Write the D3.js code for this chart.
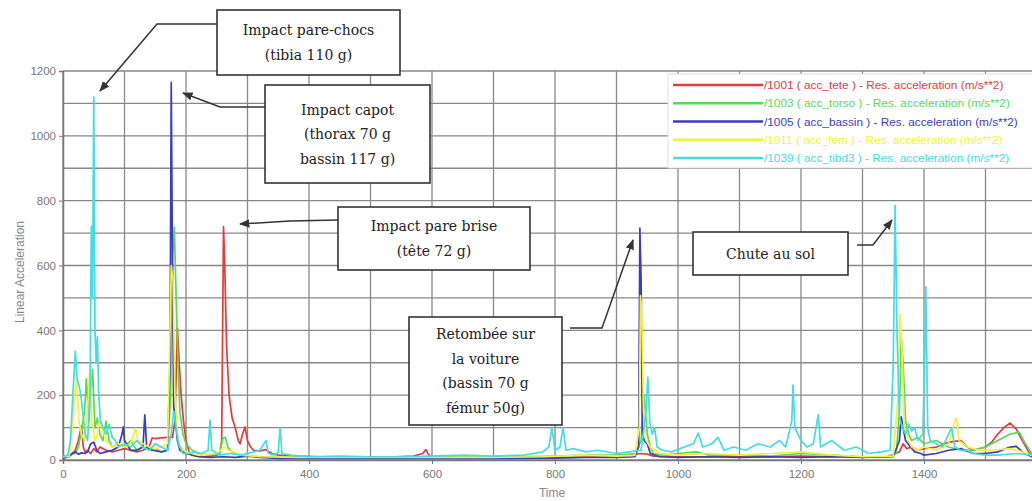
<!DOCTYPE html>
<html><head><meta charset="utf-8">
<script src="https://cdn.jsdelivr.net/npm/d3@7"></script>
<style>body{margin:0;background:#fff;overflow:hidden}</style>
</head><body><svg id="c" width="1032" height="501"></svg>
<script>
// ---------- data ----------
const xTicks = [0,200,400,600,800,1000,1200,1400,1600];
const yTicks = [0,200,400,600,800,1000,1200];
const seriesLabels = [
  "/1001 ( acc_tete ) - Res. acceleration (m/s**2)",
  "/1003 ( acc_torso ) - Res. acceleration (m/s**2)",
  "/1005 ( acc_bassin ) - Res. acceleration (m/s**2)",
  "/1011 ( acc_fem ) - Res. acceleration (m/s**2)",
  "/1039 ( acc_tibd3 ) - Res. acceleration (m/s**2)"
];
const seriesColors = ["#e23c3c","#5ad85a","#3c3cc0","#f2f23a","#44dde2"];

const tete = [[0,10],[5,12],[10,15],[15,20],[20,30],[25,60],[30,105],[33,40],[36,25],[40,30],[45,20],[50,35],[55,25],[60,40],[70,30],[80,25],[90,30],[100,35],[110,30],[120,25],[130,30],[140,40],[145,68],[150,66],[160,68],[170,70],[178,70],[182,120],[186,407],[189,300],[192,200],[196,120],[200,60],[205,25],[210,15],[220,12],[230,10],[240,12],[250,15],[255,20],[258,60],[261,720],[263,600],[266,350],[270,200],[275,130],[280,100],[285,60],[288,50],[292,80],[296,102],[300,60],[305,40],[310,30],[320,28],[330,32],[340,20],[350,15],[380,12],[420,10],[460,10],[500,10],[540,10],[570,12],[585,20],[590,32],[595,15],[600,10],[640,8],[700,8],[760,8],[820,8],[880,10],[920,15],[940,20],[950,18],[960,12],[1000,10],[1050,10],[1100,12],[1150,10],[1200,12],[1250,10],[1300,10],[1340,10],[1360,25],[1366,50],[1372,35],[1380,40],[1390,30],[1400,35],[1420,40],[1440,55],[1460,60],[1470,40],[1480,30],[1500,40],[1510,55],[1520,80],[1530,100],[1540,114],[1550,95],[1560,60],[1570,25],[1580,10],[1600,8]];

const torso = [[0,10],[10,15],[20,20],[25,40],[30,90],[35,150],[38,250],[42,120],[45,200],[48,280],[52,100],[56,130],[60,80],[65,60],[70,120],[75,60],[80,40],[90,50],[100,40],[110,60],[120,30],[130,40],[140,30],[150,35],[160,25],[170,30],[175,200],[178,620],[181,718],[184,500],[187,300],[190,150],[195,80],[200,50],[210,30],[220,20],[240,15],[255,20],[260,68],[264,70],[268,40],[275,25],[290,15],[320,10],[360,8],[400,8],[450,8],[500,8],[550,8],[600,10],[650,8],[700,8],[750,10],[800,12],[850,15],[900,15],[930,20],[940,60],[945,200],[950,80],[955,40],[960,20],[980,15],[1000,20],[1030,25],[1050,15],[1100,15],[1150,12],[1200,20],[1250,15],[1300,10],[1340,10],[1355,20],[1360,150],[1363,380],[1366,300],[1370,120],[1375,80],[1380,60],[1390,70],[1400,50],[1420,60],[1440,40],[1460,30],[1480,30],[1500,40],[1520,60],[1540,80],[1555,85],[1565,50],[1575,20],[1590,10],[1600,8]];

const bassin = [[0,5],[10,10],[15,20],[20,25],[25,18],[30,22],[35,20],[40,25],[45,50],[50,55],[55,30],[60,20],[70,25],[80,30],[90,40],[96,80],[98,102],[100,60],[110,30],[120,30],[130,40],[133,139],[136,40],[145,30],[160,25],[170,30],[174,300],[176,1165],[178,600],[180,160],[183,120],[186,60],[190,30],[200,20],[220,10],[240,8],[260,10],[280,8],[300,12],[320,8],[350,5],[400,5],[500,5],[600,5],[700,5],[800,6],[850,8],[900,8],[930,10],[936,40],[938,715],[940,560],[942,80],[945,60],[950,50],[955,20],[970,10],[1000,8],[1050,10],[1100,8],[1150,10],[1200,8],[1250,10],[1300,8],[1350,10],[1360,60],[1363,133],[1366,100],[1370,60],[1378,40],[1385,25],[1395,20],[1400,15],[1420,20],[1440,30],[1460,35],[1480,20],[1500,20],[1520,25],[1540,40],[1550,42],[1560,25],[1575,10],[1600,5]];

const femur = [[0,10],[10,10],[15,100],[18,180],[22,250],[26,120],[30,80],[35,60],[40,150],[44,300],[47,120],[52,60],[56,80],[60,130],[65,90],[70,60],[80,40],[90,50],[100,40],[110,50],[118,98],[122,60],[130,50],[140,40],[150,35],[160,40],[170,50],[173,300],[176,600],[179,550],[182,200],[186,80],[190,40],[200,25],[220,15],[250,20],[262,40],[270,30],[290,15],[320,10],[380,8],[450,8],[550,8],[620,8],[700,8],[780,10],[850,15],[900,12],[930,15],[937,100],[939,507],[941,450],[944,150],[948,60],[955,40],[970,20],[1000,15],[1050,20],[1100,15],[1150,20],[1200,25],[1250,15],[1300,10],[1350,12],[1358,200],[1361,450],[1364,350],[1368,100],[1375,60],[1380,40],[1390,30],[1400,40],[1420,30],[1440,50],[1450,120],[1453,130],[1457,60],[1470,40],[1490,30],[1510,30],[1540,35],[1560,25],[1580,10],[1600,8]];

const tibia = [[0,10],[8,15],[12,60],[16,200],[20,336],[23,250],[26,230],[29,200],[32,150],[36,80],[40,60],[44,200],[46,720],[48,500],[50,1120],[52,400],[54,300],[56,380],[58,200],[61,120],[65,100],[70,80],[75,110],[80,70],[85,60],[90,40],[100,50],[110,40],[120,60],[130,40],[140,30],[150,50],[160,40],[170,30],[176,80],[180,150],[184,100],[188,50],[195,20],[205,20],[215,25],[225,20],[236,30],[239,123],[242,30],[255,15],[270,20],[290,15],[310,25],[320,30],[330,60],[334,20],[345,15],[350,25],[353,100],[356,20],[370,15],[400,10],[450,12],[500,10],[550,10],[600,12],[650,15],[700,12],[750,15],[780,25],[790,40],[795,100],[800,30],[808,40],[813,100],[818,30],[830,35],[850,25],[870,30],[900,20],[920,25],[940,30],[948,150],[951,256],[954,120],[958,80],[962,100],[966,40],[975,30],[990,25],[1010,40],[1025,50],[1033,83],[1040,40],[1055,50],[1065,70],[1075,30],[1090,40],[1110,30],[1130,50],[1150,40],[1165,60],[1175,40],[1185,120],[1187,231],[1190,100],[1200,60],[1210,40],[1220,50],[1228,139],[1232,40],[1250,60],[1270,30],[1290,40],[1310,20],[1330,25],[1345,30],[1350,300],[1353,785],[1356,400],[1360,130],[1365,100],[1370,80],[1375,110],[1380,90],[1385,100],[1390,60],[1398,80],[1401,300],[1403,534],[1406,100],[1410,60],[1420,50],[1430,40],[1440,80],[1445,100],[1450,40],[1460,30],[1470,30],[1480,20],[1500,15],[1520,15],[1550,20],[1580,15],[1600,10]];

const annotations = [
  {lines:["Impact pare-chocs","(tibia 110 g)"]},
  {lines:["Impact capot","(thorax 70  g","bassin 117 g)"]},
  {lines:["Impact pare brise","(tête 72 g)"]},
  {lines:["Retombée sur","la voiture","(bassin 70 g","fémur 50g)"]},
  {lines:["Chute au sol"]}
];

// ---------- layout ----------
const svg = d3.select("#c");
const L = 63, R = 1047, T = 71, B = 460;
const x = d3.scaleLinear().domain([0,1600]).range([L,R]);
const y = d3.scaleLinear().domain([0,1200]).range([B,T]);

svg.append("rect").attr("width",1032).attr("height",501).attr("fill","#fff");

// grid
const gx = d3.range(0,1601,100), gy = d3.range(0,1201,100);
svg.append("g").selectAll("line").data(gx).join("line")
  .attr("x1",d=>x(d)).attr("x2",d=>x(d)).attr("y1",T).attr("y2",B)
  .attr("stroke","#888").attr("stroke-width",1.3);
svg.append("g").selectAll("line").data(gy).join("line")
  .attr("x1",L).attr("x2",R).attr("y1",d=>y(d)).attr("y2",d=>y(d))
  .attr("stroke","#888").attr("stroke-width",1.3);

// axes
const tickFont = "'Liberation Sans Narrow','Arial Narrow','Liberation Sans',sans-serif";
const ax = svg.append("g").attr("transform",`translate(0,${B})`)
  .call(d3.axisBottom(x).tickValues(xTicks).tickSize(4).tickPadding(6).tickFormat(d3.format("d")));
const ay = svg.append("g").attr("transform",`translate(${L},0)`)
  .call(d3.axisLeft(y).tickValues(yTicks).tickSize(4).tickPadding(3).tickFormat(d3.format("d")));
[ax,ay].forEach(a=>{
  a.select(".domain").attr("stroke","#777").attr("stroke-width",1.5);
  a.selectAll(".tick line").attr("stroke","#777");
  a.selectAll("text").attr("fill","#777").style("font-family",tickFont).style("font-size","11.5px");
});

svg.append("text").attr("transform","translate(24,272) rotate(-90)")
  .attr("text-anchor","middle").attr("fill","#888")
  .style("font-family","'Liberation Sans',Arial,sans-serif").style("font-size","12px")
  .text("Linear Acceleration");
svg.append("text").attr("x",552).attr("y",497).attr("text-anchor","middle").attr("fill","#888")
  .style("font-family","'Liberation Sans',Arial,sans-serif").style("font-size","12px").text("Time");

// series
const allSeries = [tete, torso, bassin, femur, tibia];
const line = d3.line().x(d=>x(d[0])).y(d=>y(d[1]));
svg.append("clipPath").attr("id","clip").append("rect").attr("x",L).attr("y",T-2).attr("width",R-L).attr("height",B-T+2);
const lg = svg.append("g").attr("clip-path","url(#clip)");
allSeries.forEach((s,i)=>{
  lg.append("path").datum(s).attr("d",line).attr("fill","none")
    .attr("stroke",seriesColors[i]).attr("stroke-width",1.7).attr("stroke-linejoin","round");
});

// legend
const leg = svg.append("g");
leg.append("rect").attr("x",668).attr("y",74).attr("width",380).attr("height",94)
  .attr("fill","#fff").attr("stroke","#ddd").attr("stroke-width",1);
const rowY = d3.scalePoint().domain(d3.range(5)).range([85,158]);
seriesLabels.forEach((lab,i)=>{
  leg.append("line").attr("x1",673).attr("x2",763).attr("y1",rowY(i)).attr("y2",rowY(i))
    .attr("stroke",seriesColors[i]).attr("stroke-width",2.5);
  leg.append("text").attr("x",764).attr("y",rowY(i)+4).attr("fill",seriesColors[i])
    .style("font-family","'Liberation Sans',Arial,sans-serif").style("font-size","11.8px").text(lab);
});

// annotation boxes
const boxGeom = [
  {x:217,y:10,w:183,h:65},
  {x:265,y:85,w:165,h:98},
  {x:338,y:207,w:192,h:63},
  {x:409,y:317,w:153,h:108},
  {x:693,y:232,w:155,h:43}
];
const arrows = [
  [[217,24],[157,24],[100,91]],
  [[265,107],[220,107],[183,93]],
  [[338,220],[290,221],[240,224]],
  [[570,328],[602,328],[633,240]],
  [[857,245],[873,245],[892,220]]
];
svg.append("defs").append("marker").attr("id","ah").attr("viewBox","0 0 10 10")
  .attr("refX",9).attr("refY",5).attr("markerWidth",7).attr("markerHeight",7)
  .attr("orient","auto").append("path").attr("d","M0,1 L10,5 L0,9 Z").attr("fill","#333");
const ag = svg.append("g");
arrows.forEach(a=>{
  ag.append("path").attr("d",d3.line()(a)).attr("fill","none").attr("stroke","#333")
    .attr("stroke-width",1.5).attr("marker-end","url(#ah)");
});
annotations.forEach((an,i)=>{
  const b = boxGeom[i];
  const g = svg.append("g");
  g.append("rect").attr("x",b.x).attr("y",b.y).attr("width",b.w).attr("height",b.h)
    .attr("fill","#fff").attr("stroke","#333").attr("stroke-width",1.6);
  const n = an.lines.length, lh = 24.5;
  const y0 = b.y + b.h/2 - (n-1)*lh/2 + 5;
  an.lines.forEach((t,j)=>{
    g.append("text").attr("x",b.x+b.w/2).attr("y",y0+j*lh).attr("text-anchor","middle")
      .attr("fill","#222").style("font-family","'DejaVu Serif',serif").style("font-size","14px").text(t);
  });
});
</script></body></html>
